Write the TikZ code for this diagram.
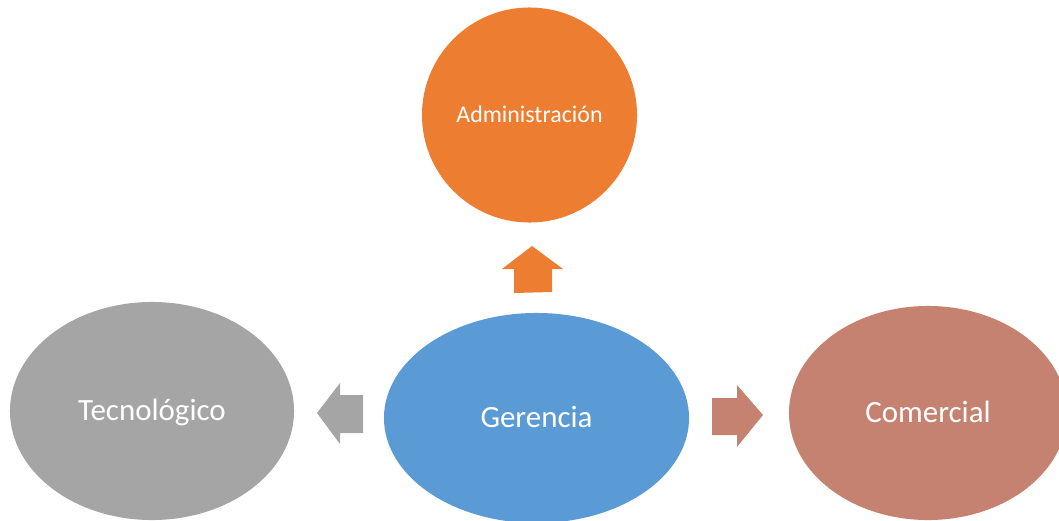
\documentclass[tikz,border=0pt]{standalone}
\usepackage{fontspec}
\setmainfont{Carlito}
\usetikzlibrary{shapes.geometric}
\definecolor{naranja}{HTML}{ED7D31}
\definecolor{azul}{HTML}{5B9BD5}
\definecolor{gris}{HTML}{A5A5A5}
\definecolor{teja}{HTML}{C58270}
\begin{document}
\begin{tikzpicture}[x=0.025cm, y=-0.025cm,
    area/.style={ellipse, inner sep=0pt, text=white, text height=14.2pt, text depth=0pt,
        font=\fontsize{22}{26}\selectfont}]
    \useasboundingbox (0,0) rectangle (1059,520);

    % areas
    \node[area, fill=naranja, minimum width=5.375cm, minimum height=5.375cm,
        text height=10.9pt, font=\fontsize{17}{20}\selectfont] (admin) at (529.5,115) {Administración};
    \node[area, fill=azul, minimum width=7.625cm, minimum height=5.25cm] (gerencia) at (536.5,418) {Gerencia};
    \node[area, fill=gris, minimum width=7.1cm, minimum height=5.45cm] (tecno) at (152,411) {Tecnológico};
    \node[area, fill=teja, minimum width=6.95cm, minimum height=5.35cm] (comercial) at (928,413) {Comercial};

    % flechas
    \fill[naranja] (532,246) -- (563,269) -- (552,269) -- (552,292) -- (514,293) -- (514,269) -- (502,269) -- cycle;
    \fill[gris] (317,413) -- (340,383) -- (340,395) -- (363,395) -- (363,433) -- (340,433) -- (340,444) -- cycle;
    \fill[teja] (763,415) -- (737,385) -- (737,398) -- (712,398) -- (712,435) -- (737,435) -- (737,447) -- cycle;
\end{tikzpicture}
\end{document}
